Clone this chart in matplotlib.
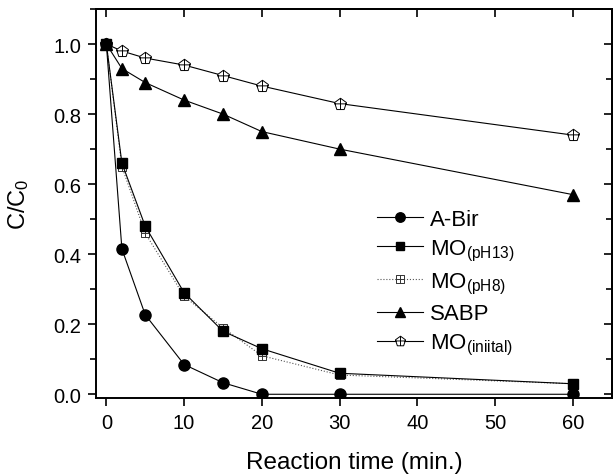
import matplotlib
matplotlib.use("Agg")
import matplotlib.pyplot as plt
import numpy as np
from matplotlib.path import Path
from matplotlib.ticker import MultipleLocator, FormatStrFormatter

plt.rcParams['font.family'] = ['Liberation Sans', 'DejaVu Sans']
plt.rcParams['mathtext.fontset'] = 'custom'
plt.rcParams['mathtext.rm'] = 'Liberation Sans'
plt.rcParams['mathtext.it'] = 'Liberation Sans'

# reaction times (min.)
t = [0, 2, 5, 10, 15, 20, 30, 60]

a_bir = [1.0, 0.415, 0.227, 0.085, 0.033, 0.0, 0.0, 0.0]
mo_ph13 = [1.0, 0.66, 0.48, 0.29, 0.18, 0.13, 0.06, 0.03]
mo_ph8 = [1.0, 0.65, 0.46, 0.28, 0.19, 0.11, 0.055, 0.03]
sabp = [1.0, 0.93, 0.89, 0.84, 0.80, 0.75, 0.70, 0.57]
mo_init = [1.0, 0.98, 0.96, 0.94, 0.91, 0.88, 0.83, 0.74]

labels = ["A-Bir", r"MO$_{\mathrm{(pH13)}}$", r"MO$_{\mathrm{(pH8)}}$", "SABP",
          r"MO$_{\mathrm{(iniital)}}$"]

# square with a cross inside
sq = Path([(-1, -1), (1, -1), (1, 1), (-1, 1), (-1, -1)],
          [Path.MOVETO, Path.LINETO, Path.LINETO, Path.LINETO, Path.CLOSEPOLY])
cross = Path([(0, -1), (0, 1), (-1, 0), (1, 0)],
             [Path.MOVETO, Path.LINETO, Path.MOVETO, Path.LINETO])
sq_cross = Path.make_compound_path(sq, cross)

# pentagon with a cross inside
ang = np.pi / 2 + np.arange(5) * 2 * np.pi / 5
pv = np.column_stack([np.cos(ang), np.sin(ang)])
pent = Path(np.vstack([pv, pv[:1]]),
            [Path.MOVETO] + [Path.LINETO] * 4 + [Path.CLOSEPOLY])
ybot = np.sin(ang[2])
pcross = Path([(0, ybot), (0, 1), (-0.95, 0.1), (0.95, 0.1)],
              [Path.MOVETO, Path.LINETO, Path.MOVETO, Path.LINETO])
pent_cross = Path.make_compound_path(pent, pcross)

fig = plt.figure(figsize=(6.13, 4.77), dpi=100)
ax = fig.add_axes([0.157, 0.164, 0.841, 0.815])

lw = 0.8
ax.plot(t, mo_init, '-', color='black', lw=lw, marker=pent_cross, ms=9,
        mfc='white', mec='black', mew=0.7, label=labels[4], zorder=3)
ax.plot(t, sabp, '-', color='black', lw=lw, marker='^', ms=9,
        mfc='black', mec='black', label=labels[3], zorder=3)
ax.plot(t, mo_ph8, ':', color='#555555', lw=lw, marker=sq_cross, ms=6,
        mfc='white', mec='#333333', mew=0.7, label=labels[2], zorder=3)
ax.plot(t, mo_ph13, '-', color='black', lw=lw, marker='s', ms=7,
        mfc='black', mec='black', label=labels[1], zorder=4)
ax.plot(t, a_bir, '-', color='black', lw=lw, marker='o', ms=8,
        mfc='black', mec='black', label=labels[0], zorder=5)

ax.set_xlim(-1.3, 65)
ax.set_ylim(-0.01, 1.1)
ax.xaxis.set_major_locator(MultipleLocator(10))
ax.yaxis.set_major_locator(MultipleLocator(0.2))
ax.yaxis.set_minor_locator(MultipleLocator(0.1))
ax.yaxis.set_major_formatter(FormatStrFormatter('%.1f'))

for s in ax.spines.values():
    s.set_linewidth(1.4)

ax.tick_params(axis='both', which='major', labelsize=14.5, length=6, width=1.2,
               direction='out', pad=5)
ax.tick_params(axis='y', which='minor', length=4, width=1.2, direction='out')
ax.tick_params(axis='x', which='minor', bottom=False, top=False)

# mirrored inward ticks on top and right
sec_x = ax.secondary_xaxis('top')
sec_x.xaxis.set_major_locator(MultipleLocator(10))
sec_x.tick_params(direction='in', length=6, width=1.2, labeltop=False)
sec_x.spines['top'].set_linewidth(1.4)
sec_y = ax.secondary_yaxis('right')
sec_y.yaxis.set_major_locator(MultipleLocator(0.2))
sec_y.yaxis.set_minor_locator(MultipleLocator(0.1))
sec_y.tick_params(which='major', direction='in', length=6, width=1.2,
                  labelright=False)
sec_y.tick_params(which='minor', direction='in', length=4, width=1.2)
sec_y.spines['right'].set_linewidth(1.4)

ax.set_xlabel("Reaction time (min.)", fontsize=17.5, labelpad=14)
ax.set_ylabel("C/C$_0$", fontsize=17, labelpad=16)

h, l = ax.get_legend_handles_labels()
order = [4, 3, 2, 1, 0]
ax.legend([h[i] for i in order], [l[i] for i in order], loc='center left',
          bbox_to_anchor=(0.505, 0.295), frameon=False, fontsize=16,
          handlelength=2.1, handletextpad=0.3, labelspacing=0.35,
          markerscale=0.85)

fig.savefig("out.png", dpi=100)
